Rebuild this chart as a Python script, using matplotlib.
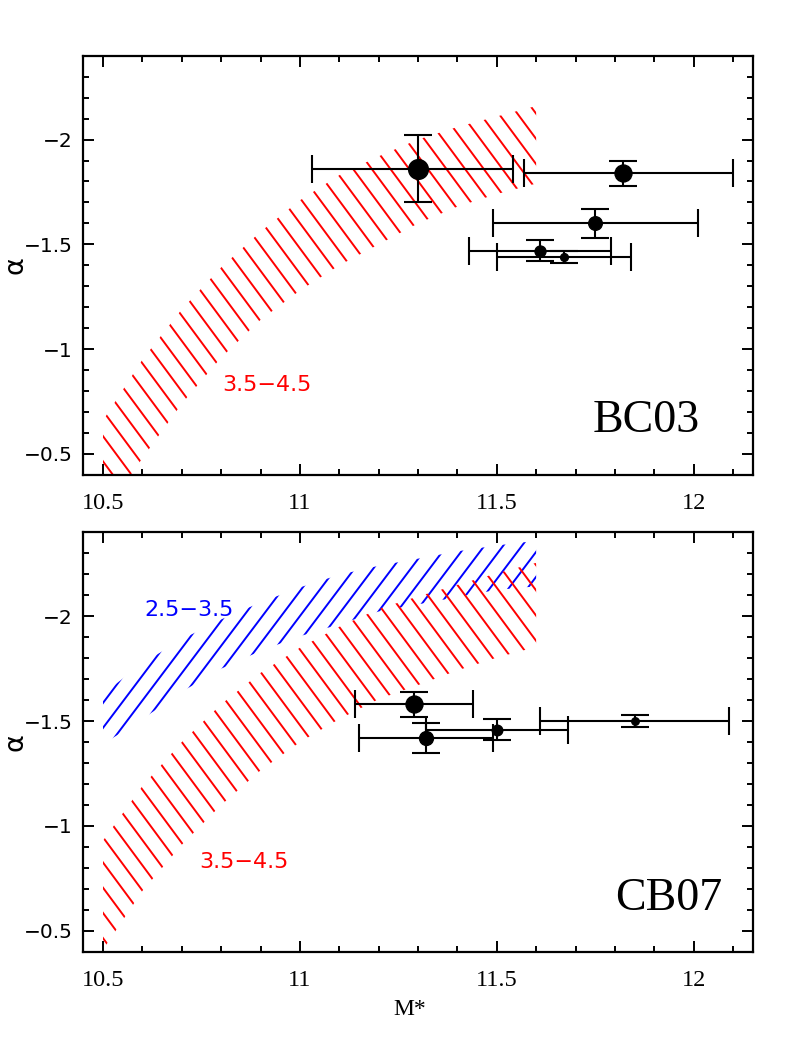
import numpy as np
import matplotlib
matplotlib.use('Agg')
import matplotlib.pyplot as plt
from matplotlib.collections import LineCollection
from matplotlib.patches import Polygon
from matplotlib.ticker import MultipleLocator, FuncFormatter

# model bands: alpha along a grid of M*, lower / upper edge of each band
mass_grid = [10.5, 10.6, 10.7, 10.8, 10.9, 11.0, 11.1, 11.2, 11.3, 11.4, 11.5, 11.6]
bc03_red_lo = [-0.21, -0.48, -0.74, -0.96, -1.14, -1.28, -1.40, -1.50, -1.60, -1.68, -1.74, -1.79]
bc03_red_hi = [-0.66, -0.95, -1.19, -1.39, -1.56, -1.71, -1.83, -1.92, -2.00, -2.06, -2.11, -2.16]
cb07_red_lo = [-0.41, -0.69, -0.91, -1.10, -1.265, -1.40, -1.51, -1.605, -1.672, -1.742, -1.803, -1.854]
cb07_red_hi = [-0.93, -1.19, -1.40, -1.58, -1.73, -1.85, -1.95, -2.035, -2.095, -2.15, -2.205, -2.255]
cb07_blue_lo = [-1.39, -1.51, -1.64, -1.75, -1.835, -1.905, -1.962, -2.023, -2.057, -2.092, -2.126, -2.143]
cb07_blue_hi = [-1.63, -1.775, -1.89, -1.985, -2.066, -2.138, -2.198, -2.241, -2.275, -2.31, -2.338, -2.36]

# measured points (BC03)
bc03_mass = [11.30, 11.82, 11.75, 11.61, 11.67]
bc03_mass_elo = [0.27, 0.25, 0.26, 0.18, 0.17]
bc03_mass_ehi = [0.24, 0.28, 0.26, 0.18, 0.17]
bc03_alpha = [-1.86, -1.84, -1.60, -1.47, -1.44]
bc03_alpha_err = [0.16, 0.06, 0.07, 0.05, 0.03]

# measured points (CB07)
cb07_mass = [11.29, 11.32, 11.50, 11.85]
cb07_mass_err = [0.15, 0.17, 0.18, 0.24]
cb07_alpha = [-1.58, -1.42, -1.46, -1.50]
cb07_alpha_err = [0.06, 0.07, 0.05, 0.03]

# marker sizes (pt) per point
bc03_ms = [14.2, 12.2, 9.8, 7.9, 5.6]
cb07_ms = [12.2, 10.0, 7.6, 5.4]

fig = plt.figure(figsize=(7.95, 10.59), dpi=100)
ax1 = fig.add_axes([0.1048, 0.5515, 0.842, 0.3959])
ax2 = fig.add_axes([0.1048, 0.1013, 0.842, 0.3959])


def hatch_band(ax, xs, lo, hi, color, angle, spacing=15.0, lw=1.4):
    xs = np.asarray(xs)
    verts = np.column_stack([np.r_[xs, xs[::-1]], np.r_[lo, np.asarray(hi)[::-1]]])
    clip = Polygon(verts, closed=True, transform=ax.transData)
    bb = ax.get_position()
    W = bb.width * fig.get_figwidth() * fig.dpi
    H = bb.height * fig.get_figheight() * fig.dpi
    t = np.deg2rad(angle)
    d = np.array([np.cos(t), np.sin(t)])
    n = np.array([-np.sin(t), np.cos(t)])
    L = np.hypot(W, H)
    c0 = np.array([W, H]) / 2
    segs = []
    for k in np.arange(-L, L, spacing):
        p0 = (c0 + k * n - L * d) / [W, H]
        p1 = (c0 + k * n + L * d) / [W, H]
        segs.append([p0, p1])
    lc = LineCollection(segs, colors=color, linewidths=lw, transform=ax.transAxes, zorder=1)
    ax.add_collection(lc, autolim=False)
    lc.set_clip_path(clip)
    lc.set_clip_box(ax.bbox)


def style_axes(ax):
    ax.set_xlim(10.45, 12.15)
    ax.set_ylim(-0.4, -2.4)
    ax.xaxis.set_major_locator(MultipleLocator(0.5))
    ax.xaxis.set_minor_locator(MultipleLocator(0.1))
    ax.yaxis.set_major_locator(MultipleLocator(0.5))
    ax.yaxis.set_minor_locator(MultipleLocator(0.1))
    f = FuncFormatter(lambda v, p: ('%g' % v).replace('-', '\u2212'))
    ax.xaxis.set_major_formatter(f)
    ax.yaxis.set_major_formatter(f)
    ax.tick_params(which='both', direction='in', top=True, right=True, width=1.4)
    ax.tick_params(which='major', length=8)
    ax.tick_params(which='minor', length=4.5)
    ax.tick_params(axis='x', which='major', pad=13, labelsize=17.5,
                   labelfontfamily='Liberation Serif')
    ax.tick_params(axis='y', which='major', pad=7.5, labelsize=14.5,
                   labelfontfamily='DejaVu Sans')
    for s in ax.spines.values():
        s.set_linewidth(1.6)
    ax.set_ylabel('\u03b1', fontsize=19.5, family='DejaVu Sans')
    ax.yaxis.set_label_coords(-0.082, 0.5)


# top panel: BC03
hatch_band(ax1, mass_grid, bc03_red_lo, bc03_red_hi, '#ff0000', -53.5)
for i in range(len(bc03_mass)):
    ax1.errorbar(bc03_mass[i], bc03_alpha[i],
                 xerr=[[bc03_mass_elo[i]], [bc03_mass_ehi[i]]], yerr=bc03_alpha_err[i],
                 fmt='o', color='k', ms=bc03_ms[i], elinewidth=1.5,
                 capsize=10, capthick=1.5, zorder=3)
ax1.text(10.917, -0.831, '3.5\u22124.5', color='#ff0000', fontsize=16,
         family='DejaVu Sans', ha='center', va='center')
ax1.text(0.8413, 0.1033, 'BC03', transform=ax1.transAxes, fontsize=33,
         family='Liberation Serif', ha='center', va='baseline')
style_axes(ax1)

# bottom panel: CB07
hatch_band(ax2, mass_grid, cb07_blue_lo, cb07_blue_hi, '#0000ff', 53.0)
hatch_band(ax2, mass_grid, cb07_red_lo, cb07_red_hi, '#ff0000', -53.5)
for i in range(len(cb07_mass)):
    ax2.errorbar(cb07_mass[i], cb07_alpha[i], xerr=cb07_mass_err[i], yerr=cb07_alpha_err[i],
                 fmt='o', color='k', ms=cb07_ms[i], elinewidth=1.5,
                 capsize=10, capthick=1.5, zorder=3)
ax2.text(10.857, -0.827, '3.5\u22124.5', color='#ff0000', fontsize=16,
         family='DejaVu Sans', ha='center', va='center')
ax2.text(10.718, -2.03, '2.5\u22123.5', color='#0000ff', fontsize=16,
         family='DejaVu Sans', ha='center', va='center')
ax2.text(0.874, 0.0995, 'CB07', transform=ax2.transAxes, fontsize=33,
         family='Liberation Serif', ha='center', va='baseline')
style_axes(ax2)
ax2.set_xlabel('M*', fontsize=17, family='Liberation Serif')
ax2.xaxis.set_label_coords(0.488, -0.113)

fig.savefig('out.png', dpi=100)
